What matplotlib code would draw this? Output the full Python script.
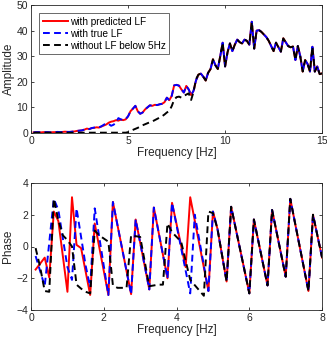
import numpy as np
import matplotlib
matplotlib.use("Agg")
import matplotlib.pyplot as plt

# amplitude spectrum, sampled every 0.125 Hz (0.125 .. 15 Hz)
freq_amp = np.arange(1, 121) * 0.125

# below 8.5 Hz the three spectra differ (0.125 .. 8.5 Hz, 68 samples)
amp_pred_low = [0.2, 0.3, 0.3, 0.2, 0.3, 0.3, 0.3, 0.2, 0.3, 0.3,
                0.4, 0.3, 0.4, 0.5, 0.4, 0.4, 0.5, 0.6, 0.8, 0.9,
                1.0, 1.3, 1.7, 1.5, 1.9, 2.0, 2.2, 2.1, 2.5, 2.9,
                3.3, 4.0, 4.4, 4.6, 5.0, 4.8, 5.2, 5.0, 5.3, 6.5,
                8.5, 9.5, 10.6, 8.5, 7.5, 8.0, 9.2, 10.0, 10.8, 10.6,
                11.0, 10.9, 11.2, 11.4, 12.0, 13.8, 12.8, 14.5, 18.6, 18.8,
                18.5, 17.0, 15.8, 18.4, 17.0, 14.8, 16.5, 20.5]
amp_true_low = [0.2, 0.3, 0.3, 0.2, 0.3, 0.3, 0.3, 0.2, 0.3, 0.3,
                0.4, 0.3, 0.4, 0.5, 0.4, 0.4, 0.5, 0.6, 0.8, 0.9,
                1.0, 1.3, 1.6, 1.5, 1.9, 2.1, 2.3, 2.2, 2.6, 3.2,
                3.8, 3.5, 2.8, 3.2, 4.0, 5.8, 5.3, 5.1, 5.4, 6.5,
                8.5, 9.5, 10.6, 8.5, 7.5, 8.0, 9.2, 10.0, 10.8, 10.6,
                11.0, 10.9, 11.2, 11.4, 12.0, 13.8, 12.8, 14.5, 18.6, 18.8,
                18.5, 17.0, 15.8, 18.4, 17.0, 14.8, 16.5, 20.5]
amp_noLF_low = [0.1, 0.1, 0.1, 0.1, 0.1, 0.1, 0.1, 0.1, 0.1, 0.1,
                0.1, 0.1, 0.1, 0.1, 0.1, 0.1, 0.1, 0.1, 0.1, 0.1,
                0.1, 0.1, 0.1, 0.1, 0.1, 0.1, 0.1, 0.1, 0.1, 0.1,
                0.1, 0.1, 0.1, 0.1, 0.1, 0.1, 0.1, 0.1, 0.1, 0.3,
                0.8, 1.2, 1.6, 2.0, 2.5, 3.0, 3.4, 3.8, 4.2, 4.5,
                5.0, 5.5, 6.0, 6.5, 7.2, 8.0, 8.6, 10.5, 13.0, 14.0,
                14.2, 13.8, 14.5, 15.0, 15.5, 12.9, 16.1, 21.0]
# above 8.5 Hz all three coincide (8.625 .. 15 Hz)
amp_high = [22.8, 23.2, 22.0, 20.5, 23.5, 25.0, 28.8, 26.5, 25.0, 30.0,
            35.3, 26.0, 31.5, 35.0, 32.0, 34.5, 36.5, 35.5, 35.0, 36.5,
            36.0, 34.5, 43.5, 33.0, 40.0, 40.2, 39.5, 38.5, 37.5, 36.0,
            34.0, 32.0, 35.3, 33.5, 31.8, 37.0, 35.5, 34.0, 33.5, 33.8,
            28.5, 34.0, 30.0, 24.0, 28.5, 27.0, 24.0, 33.7, 24.0, 26.0,
            23.0, 23.3]

# phase spectrum, turning points of each curve
ph_pred_f = [0.125, 0.375, 0.5, 0.625, 0.75, 1.0, 1.125, 1.25, 1.375, 1.625,
             1.75, 2.125, 2.25, 2.75, 2.875, 3.25, 3.375, 3.75, 3.875, 4.25,
             4.375, 4.875, 5.0, 5.125, 5.375, 5.5, 6.0, 6.125, 6.5, 6.625,
             7.0, 7.125, 7.625, 7.75, 8.0]
ph_pred = [-1.45, -0.7, -1.95, 2.2, 1.6, -2.85, 3.1, 0.1, -0.1, -3.05,
           1.45, -3.05, 2.8, -3.0, 1.7, -2.7, 2.45, -2.0, 2.75, -1.3,
           3.1, -2.8, 2.2, 1.1, -2.2, 2.5, -2.95, 1.7, -2.45, 2.3,
           -1.9, 3.0, -2.8, 2.0, -0.7]

ph_true_f = [0.125, 0.375, 0.625, 0.75, 1.0, 1.125, 1.25, 1.5, 1.625, 1.75,
             2.125, 2.25, 2.75, 2.875, 3.25, 3.375, 3.75, 3.875, 4.375, 4.5,
             4.875, 5.0, 5.125, 5.375, 5.5, 6.0, 6.125, 6.5, 6.625, 7.0,
             7.125, 7.625, 7.75, 8.0]
ph_true = [-0.6, -2.5, 3.0, 2.3, -1.3, -2.1, 2.4, -1.2, -2.55, 2.4,
           -3.05, 2.8, -3.0, 1.7, -2.7, 2.45, -2.0, 2.75, -2.95, 2.0,
           -2.8, 2.2, 1.1, -2.2, 2.5, -2.95, 1.7, -2.45, 2.3, -1.9,
           3.0, -2.8, 2.0, -0.7]

ph_noLF_f = [0.125, 0.25, 0.375, 0.5, 0.625, 0.75, 0.875, 1.0, 1.125, 1.25,
             1.375, 1.5, 1.625, 1.75, 1.875, 2.0, 2.125, 2.25, 2.375, 2.625,
             2.75, 2.875, 3.0, 3.25, 3.5, 3.625, 3.75, 3.875, 4.0, 4.125,
             4.375, 4.75, 4.875, 5.0, 5.125, 5.375, 5.5, 6.0, 6.125, 6.5,
             6.625, 7.0, 7.125, 7.625, 7.75, 8.0]
ph_noLF = [-0.1, -1.3, -2.8, -2.85, 3.0, 1.65, 0.7, 0.4, 0.0, -2.4,
           -2.65, -2.85, -2.95, 1.0, 0.7, 0.5, 0.3, -2.45, -2.6, -2.6,
           0.7, 0.65, 0.6, -2.5, -2.4, -2.4, 1.45, 0.9, 0.6, 0.3,
           -2.1, -3.1, 2.2, 2.1, 1.1, -2.2, 2.5, -2.95, 1.7, -2.45,
           2.3, -1.9, 3.0, -2.8, 2.0, -0.7]


def style_axes(ax):
    for sp in ax.spines.values():
        sp.set_color('#262626')
        sp.set_linewidth(0.6)
    ax.tick_params(direction='in', top=True, right=True, length=2.5,
                   width=0.6, labelsize=7.5, colors='#262626', pad=2)


plt.rcParams['font.family'] = ['Liberation Sans', 'DejaVu Sans']
fig = plt.figure(figsize=(3.27, 3.40), dpi=100)

ax1 = fig.add_axes([0.095, 0.609, 0.890, 0.376])
amp_pred = amp_pred_low + amp_high
amp_true = amp_true_low + amp_high
amp_noLF = amp_noLF_low + amp_high
ax1.plot(freq_amp, amp_pred, color='red', lw=1.4, label='with predicted LF')
ax1.plot(freq_amp, amp_true, color='blue', lw=1.4, ls=(0, (3.5, 2.2)), label='with true LF')
ax1.plot(freq_amp, amp_noLF, color='black', lw=1.4, ls=(0, (3.5, 2.2)), label='without LF below 5Hz')
ax1.set_xlim(0, 15)
ax1.set_ylim(0, 50)
ax1.set_xticks([0, 5, 10, 15])
ax1.set_yticks([0, 10, 20, 30, 40, 50])
ax1.set_xlabel('Frequency [Hz]', fontsize=8.5, color='#262626', labelpad=1)
ax1.set_ylabel('Amplitude', fontsize=8.5, color='#262626', labelpad=1.5)
style_axes(ax1)
leg = ax1.legend(loc='upper left', fontsize=7.2, frameon=True, fancybox=False,
                 handlelength=2.5, handletextpad=0.2, borderpad=0.35,
                 labelspacing=0.2, borderaxespad=0.8)
leg.get_frame().set_edgecolor('#262626')
leg.get_frame().set_linewidth(0.6)

ax2 = fig.add_axes([0.095, 0.088, 0.890, 0.374])
ax2.plot(ph_pred_f, ph_pred, color='red', lw=1.4)
ax2.plot(ph_true_f, ph_true, color='blue', lw=1.4, ls=(0, (3.5, 2.2)))
ax2.plot(ph_noLF_f, ph_noLF, color='black', lw=1.4, ls=(0, (3.5, 2.2)))
ax2.set_xlim(0, 8)
ax2.set_ylim(-4, 4)
ax2.set_xticks([0, 2, 4, 6, 8])
ax2.set_yticks([-4, -2, 0, 2, 4])
ax2.set_xlabel('Frequency [Hz]', fontsize=8.5, color='#262626', labelpad=1)
ax2.set_ylabel('Phase', fontsize=8.5, color='#262626', labelpad=1.5)
style_axes(ax2)

fig.savefig('out.png', dpi=100)
